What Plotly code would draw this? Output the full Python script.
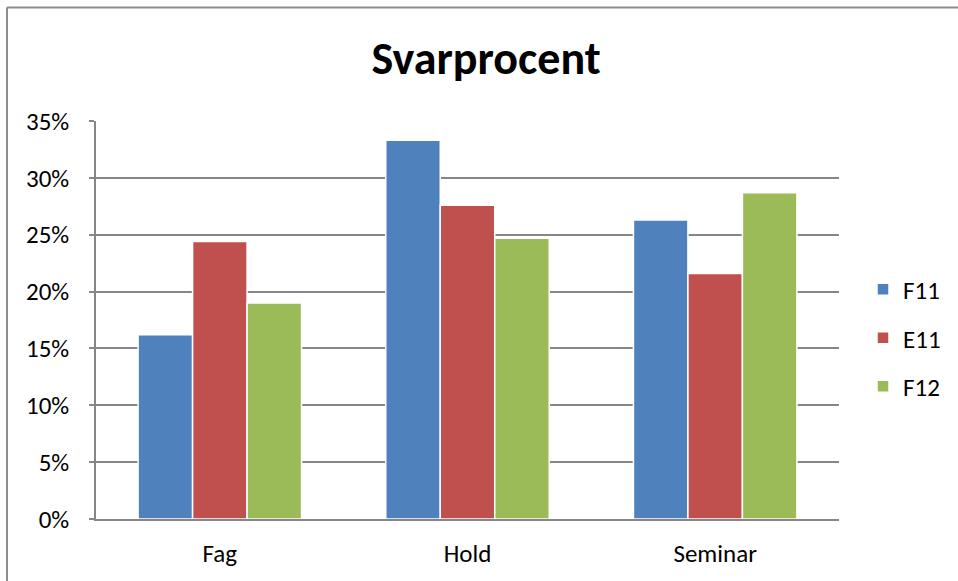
import plotly.graph_objects as go

categories = ["Fag", "Hold", "Seminar"]
series_names = ["F11", "E11", "F12"]
f11 = [0.162, 0.333, 0.263]
e11 = [0.244, 0.276, 0.216]
f12 = [0.190, 0.247, 0.287]
colors = ["#4F81BD", "#C0504D", "#9BBB59"]
y_ticks = [0, 0.05, 0.10, 0.15, 0.20, 0.25, 0.30, 0.35]
y_tick_labels = ["0%", "5%", "10%", "15%", "20%", "25%", "30%", "35%"]

FONT = "Carlito, Calibri, Lato, sans-serif"

fig = go.Figure()
for name, vals, col in zip(series_names, [f11, e11, f12], colors):
    fig.add_trace(go.Bar(
        x=categories, y=vals, name=name, legendgroup=name,
        marker=dict(color=col, line=dict(color="white", width=1.5)),
    ))

W, H = 958, 581
L, R, T, B = 96, 119, 121, 62
pw, ph = W - L - R, H - T - B

bx = (7 - L) / pw
by = (H - B - 7.5) / ph

fig.update_layout(
    width=W, height=H,
    margin=dict(l=L, r=R, t=T, b=B, autoexpand=False),
    paper_bgcolor="white", plot_bgcolor="white",
    font=dict(family=FONT, size=25, color="#000000"),
    title=dict(text="<b>Svarprocent</b>", x=(486 - L) / pw, xref="paper", xanchor="center",
               y=1 - 58 / H, yanchor="middle", font=dict(size=46, family=FONT)),
    barmode="group", bargap=0.34, bargroupgap=0.0,
    showlegend=True,
    legend=dict(x=(863 - L) / pw, xanchor="left", y=(H - B - 338) / ph, yanchor="middle",
                font=dict(size=25, family=FONT), tracegroupgap=13, traceorder="grouped",
                bgcolor="rgba(0,0,0,0)", itemwidth=30),
    xaxis=dict(showline=True, linecolor="#868686", linewidth=1.5, showgrid=False,
               ticks="", tickfont=dict(size=25), ticklabelstandoff=11, fixedrange=True),
    yaxis=dict(range=[0, 0.35], tickvals=y_ticks, ticktext=y_tick_labels,
               showline=True, linecolor="#868686", linewidth=1.5,
               showgrid=True, gridcolor="#868686", gridwidth=1.5,
               ticks="outside", ticklen=5, tickcolor="#868686", tickwidth=1.5,
               ticklabelstandoff=15, tickfont=dict(size=25), zeroline=False),
    shapes=[
        dict(type="line", xref="paper", yref="paper", x0=bx, x1=bx, y0=-0.5, y1=by,
             line=dict(color="#8c8c8c", width=2)),
        dict(type="line", xref="paper", yref="paper", x0=bx, x1=1.5, y0=by, y1=by,
             line=dict(color="#8c8c8c", width=2)),
    ],
)

fig.write_html("out.html", config={"displayModeBar": False},
               post_script="document.body.style.margin='0';document.body.style.overflow='hidden';")
